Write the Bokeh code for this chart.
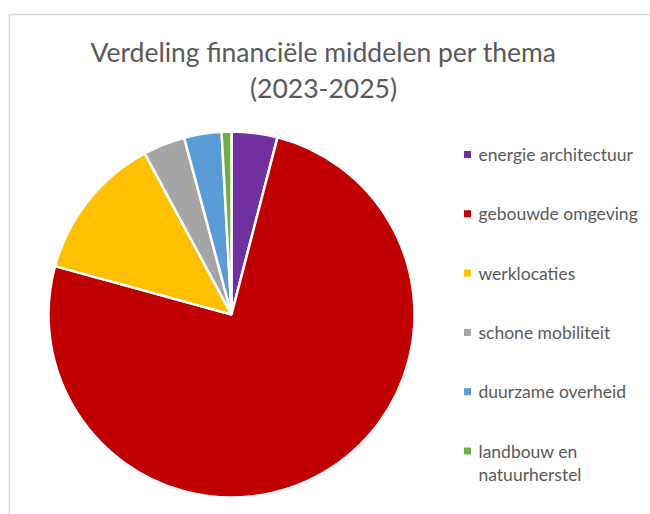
import math
from bokeh.plotting import figure
from bokeh.models import ColumnDataSource, Range1d
from bokeh.core.properties import value
from bokeh.embed import file_html
from bokeh.resources import INLINE

# ---- data ----
categories = ["energie architectuur", "gebouwde omgeving", "werklocaties",
              "schone mobiliteit", "duurzame overheid", "landbouw en natuurherstel"]
legend_labels = ["energie architectuur", "gebouwde omgeving", "werklocaties",
                 "schone mobiliteit", "duurzame overheid", "landbouw en\nnatuurherstel"]
shares = [4.05, 75.3, 12.9, 3.7, 3.3, 0.87]
colors = ["#7030A0", "#C00000", "#FFC000", "#A5A5A5", "#5B9BD5", "#70AD47"]
title_lines = ["Verdeling financiële middelen per thema", "(2023-2025)"]

# ---- layout (pixel space) ----
W, H = 650, 514
OFF = 0
FONT = "Lato"
TXT = "#595959"

def fx(px):  # page x -> data x
    return px - OFF

def fy(py):  # page y -> data y
    return H - (py - OFF)

p = figure(width=W, height=H, output_backend="svg", toolbar_location=None,
           x_range=Range1d(0, W), y_range=Range1d(0, H),
           x_axis_location=None, y_axis_location=None, min_border=0)
p.grid.visible = False
p.outline_line_color = None
p.background_fill_color = "white"
p.border_fill_color = "white"

# frame
p.segment(x0=[fx(9), fx(9)], y0=[fy(14), fy(14)], x1=[W, fx(9)], y1=[fy(14), 0],
          line_color="#d9d9d9", line_width=1.5)

# pie
total = sum(shares)
starts, ends = [], []
acc = 0.0
for s in shares:
    starts.append(math.pi / 2 - acc / total * 2 * math.pi)
    acc += s
    ends.append(math.pi / 2 - acc / total * 2 * math.pi)
src = ColumnDataSource(dict(cat=categories, start=starts, end=ends, color=colors))
p.wedge(x=fx(231), y=fy(314), radius=183, start_angle="start", end_angle="end",
        direction="clock", fill_color="color", line_color="white", line_width=2.5,
        source=src)

# title
for i, t in enumerate(title_lines):
    p.text(x=[fx(323)], y=[fy(51 + i * 36)], text=[t], text_font=value(FONT),
           text_font_size="26.5px", text_color=TXT, text_align="center",
           text_baseline="middle")

# legend
lx, ly, lstep, lline = 467, 154, 59.3, 23
sq_x, sq_y, tx, ty, tt = [], [], [], [], []
for i, (lab, c) in enumerate(zip(legend_labels, colors)):
    yy = ly + i * lstep
    sq_x.append(fx(lx)); sq_y.append(fy(yy))
    for j, line in enumerate(lab.split("\n")):
        tx.append(fx(lx + 11)); ty.append(fy(yy + j * lline)); tt.append(line)
p.scatter(x=sq_x, y=sq_y, marker="square", size=7, fill_color=colors, line_color=None)
p.text(x=tx, y=ty, text=tt, text_font=value(FONT), text_font_size="17.5px",
       text_color=TXT, text_align="left", text_baseline="middle")

open("out.html", "w").write(file_html(p, INLINE))
